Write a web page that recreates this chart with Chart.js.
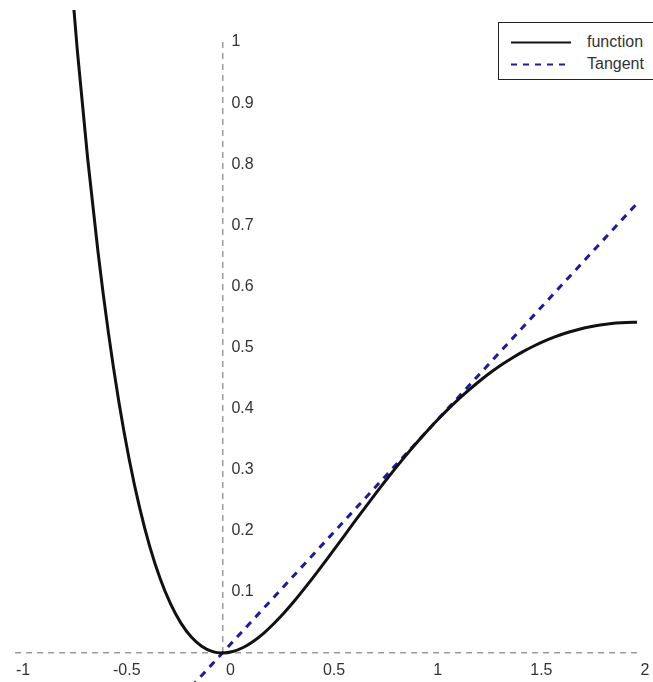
<!DOCTYPE html>
<html>
<head>
<meta charset="utf-8">
<title>Function and tangent</title>
<script src="https://cdn.jsdelivr.net/npm/chart.js@4/dist/chart.umd.min.js"></script>
<style>
  html, body { margin: 0; padding: 0; background: #fff; }
  #wrap { position: relative; width: 653px; height: 682px; overflow: hidden; }
  #legend {
    position: absolute; left: 498px; top: 22px; width: 175px; height: 56px;
    border: 1px solid #222; background: #fff;
    font-family: "Liberation Sans", Arial, sans-serif; font-size: 16px; color: #333;
  }
  .row { position: absolute; left: 0; height: 20px; width: 175px; }
  .row svg { position: absolute; left: 12px; top: 9px; }
  .row span { position: absolute; left: 88px; top: 0; line-height: 20px; }
</style>
</head>
<body>
<div id="wrap">
  <canvas id="chart" width="653" height="682"></canvas>
  <div id="legend"></div>
</div>
<script>
// Curve samples (x, f(x))
const xValues = [
  -1, -0.95, -0.9, -0.85, -0.8, -0.75, -0.7, -0.65, -0.6, -0.55,
  -0.5, -0.45, -0.4, -0.35, -0.3, -0.25, -0.2, -0.15, -0.1, -0.05,
  0, 0.05, 0.1, 0.15, 0.2, 0.25, 0.3, 0.35, 0.4, 0.45,
  0.5, 0.55, 0.6, 0.65, 0.7, 0.75, 0.8, 0.85, 0.9, 0.95,
  1, 1.05, 1.1, 1.15, 1.2, 1.25, 1.3, 1.35, 1.4, 1.45,
  1.5, 1.55, 1.6, 1.65, 1.7, 1.75, 1.8, 1.85, 1.9, 1.95, 2
];
const functionValues = [
  2.7183, 2.3336, 1.9923, 1.6904, 1.4243, 1.1908, 0.9867, 0.8093, 0.6560, 0.5243,
  0.4122, 0.3176, 0.2387, 0.1738, 0.1215, 0.0803, 0.0489, 0.0261, 0.0111, 0.0026,
  0, 0.0024, 0.0090, 0.0194, 0.0327, 0.0487, 0.0667, 0.0863, 0.1073, 0.1291,
  0.1516, 0.1745, 0.1976, 0.2206, 0.2433, 0.2657, 0.2876, 0.3088, 0.3293, 0.3490,
  0.3679, 0.3858, 0.4028, 0.4188, 0.4337, 0.4477, 0.4606, 0.4725, 0.4833, 0.4932,
  0.5020, 0.5099, 0.5169, 0.5229, 0.5279, 0.5322, 0.5356, 0.5381, 0.5400, 0.5410, 0.5413
];

// Tangent line end points
const tangentX = [-0.15, 2];
const tangentValues = [-0.0552, 0.7358];

// Axis ticks
const xTicks = [-1, -0.5, 0, 0.5, 1, 1.5, 2];
const xTickLabels = ['-1', '-0.5', '0', '0.5', '1', '1.5', '2'];
const yTicks = [0.1, 0.2, 0.3, 0.4, 0.5, 0.6, 0.7, 0.8, 0.9, 1];
const yTickLabels = ['0.1', '0.2', '0.3', '0.4', '0.5', '0.6', '0.7', '0.8', '0.9', '1'];

const FONT = '"Liberation Sans", Arial, sans-serif';
const TEXT = '#333';
const AXIS = '#9a9a9a';

// let the curves run past the axis box, up to the canvas edges
const overflow = { left: 13, right: 16, top: 32, bottom: 29 };

const series = [
  { label: 'function', xs: xValues, ys: functionValues, color: '#111111', width: 3, dash: [] },
  { label: 'Tangent', xs: tangentX, ys: tangentValues, color: '#1c1c9c', width: 3, dash: [7, 6.5] }
];

// only the zero grid line is drawn: it forms the dashed axis through the origin
const zeroLine = c => (c.tick && c.tick.value === 0 ? AXIS : 'rgba(0,0,0,0)');

// y tick labels sit to the right of the vertical axis
const yLabelPlugin = {
  id: 'yTickLabels',
  beforeDatasetsDraw(chart) {
    const { ctx, scales: { x, y } } = chart;
    ctx.save();
    ctx.font = '16px ' + FONT;
    ctx.fillStyle = TEXT;
    ctx.textAlign = 'left';
    ctx.textBaseline = 'middle';
    const left = x.getPixelForValue(0) + 9;
    yTicks.forEach((v, i) => ctx.fillText(yTickLabels[i], left, y.getPixelForValue(v)));
    ctx.restore();
  }
};

new Chart(document.getElementById('chart'), {
  type: 'line',
  data: {
    datasets: series.map(s => ({
      label: s.label,
      data: s.xs.map((x, i) => ({ x: x, y: s.ys[i] })),
      borderColor: s.color,
      borderWidth: s.width,
      borderDash: s.dash,
      pointRadius: 0,
      fill: false,
      cubicInterpolationMode: 'monotone',
      clip: overflow
    }))
  },
  options: {
    responsive: false,
    animation: false,
    events: [],
    layout: { padding: { left: 13, right: 16, top: 42, bottom: 29 } },
    plugins: { legend: { display: false }, tooltip: { enabled: false } },
    scales: {
      x: {
        type: 'linear', min: -1, max: 2,
        position: { y: 0 },
        afterFit: s => { s.height = 0; },
        afterBuildTicks: s => { s.ticks = xTicks.map(v => ({ value: v })); },
        grid: { display: true, drawTicks: false, color: zeroLine, lineWidth: 1.5 },
        border: { display: false, dash: [6, 5] },
        ticks: {
          callback: (v, i) => xTickLabels[i],
          autoSkip: false, maxRotation: 0,
          labelOffset: 8, padding: 8,
          color: TEXT, font: { family: FONT, size: 16 }
        }
      },
      y: {
        type: 'linear', min: 0, max: 1,
        position: { x: 0 },
        afterFit: s => { s.width = 0; },
        afterBuildTicks: s => { s.ticks = [0].concat(yTicks).map(v => ({ value: v })); },
        grid: { display: true, drawTicks: false, color: zeroLine, lineWidth: 1.5 },
        border: { display: false, dash: [6, 5] },
        ticks: { display: false }
      }
    }
  },
  plugins: [yLabelPlugin]
});

// legend box
const legend = document.getElementById('legend');
series.forEach((s, i) => {
  const row = document.createElement('div');
  row.className = 'row';
  row.style.top = (9 + i * 22) + 'px';
  const dash = s.dash.length ? 'stroke-dasharray="6 6"' : '';
  row.innerHTML =
    '<svg width="60" height="3"><line x1="0" y1="1.5" x2="60" y2="1.5" stroke="' + s.color +
    '" stroke-width="2" ' + dash + '/></svg><span>' + s.label + '</span>';
  legend.appendChild(row);
});
</script>
</body>
</html>
